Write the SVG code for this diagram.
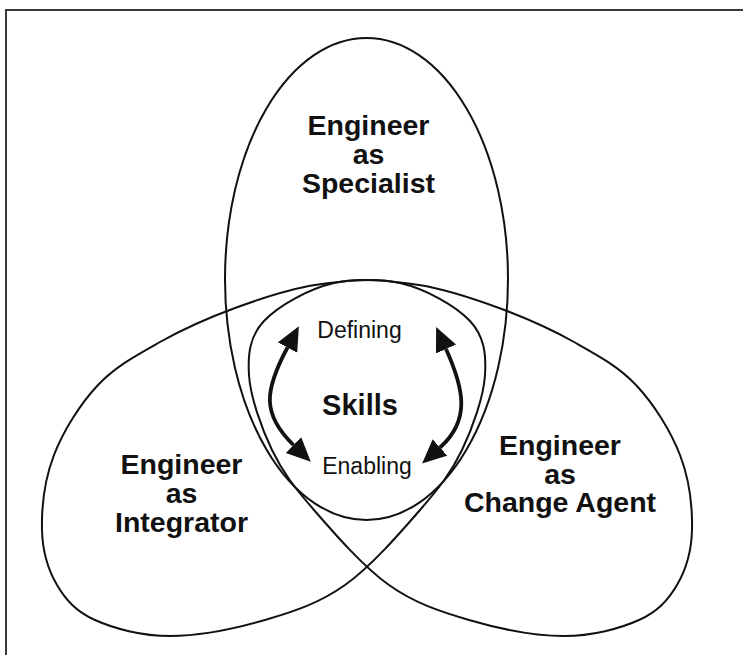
<svg xmlns="http://www.w3.org/2000/svg" xmlns:xlink="http://www.w3.org/1999/xlink" width="743" height="655" viewBox="0 0 743 655">
  <style>
    .outline { fill: none; stroke: #111; stroke-width: 2; }
    .frame { fill: none; stroke: #3a3a3a; stroke-width: 2; }
    .role { font-family: "Liberation Sans", Arial, Helvetica, sans-serif; font-weight: bold; font-size: 28.5px; fill: #111; text-anchor: middle; }
    .core { font-family: "Liberation Sans", Arial, Helvetica, sans-serif; font-weight: bold; font-size: 29px; fill: #111; text-anchor: middle; }
    .skill { font-family: "Liberation Sans", Arial, Helvetica, sans-serif; font-size: 23px; fill: #111; text-anchor: middle; }
    .flow { fill: none; stroke: #111; stroke-width: 3.8; marker-start: url(#head); marker-end: url(#head); }
  </style>
  <defs>
    <!-- tilted lobe, lower-left; mirrored for the lower-right lobe -->
    <path id="lobe" d="M42,530 C41.5,508.3 44.7,479.2 54,455 C63.3,430.8 80.3,403.8 98,385 C115.7,366.2 137.2,354.8 160,342 C182.8,329.2 209.2,317.5 235,308 C260.8,298.5 287.5,289.2 315,285 C342.5,280.8 374.2,277 400,283 C425.8,289 455.8,305.7 470,321 C484.2,336.3 486.3,353.5 485,375 C483.7,396.5 472.8,427.5 462,450 C451.2,472.5 439.5,487.5 420,510 C400.5,532.5 370.8,566.7 345,585 C319.2,603.3 294.2,611.5 265,620 C235.8,628.5 198.3,636 170,636 C141.7,636 113.8,628.5 95,620 C76.2,611.5 65.8,600 57,585 C48.2,570 42.5,551.7 42,530 Z"/>
    <marker id="head" markerUnits="userSpaceOnUse" markerWidth="26" markerHeight="24" refX="0" refY="11" orient="auto-start-reverse">
      <path d="M0,0 L24,11 L0,22 Z" fill="#111"/>
    </marker>
  </defs>

  <!-- frame edges -->
  <path class="frame" d="M6,655 L6,10 L743,10"/>

  <g id="specialist">
    <ellipse class="outline" cx="366.5" cy="279" rx="141.5" ry="241"/>
    <text class="role" x="368.5" y="135">Engineer</text>
    <text class="role" x="368.5" y="164">as</text>
    <text class="role" x="368.5" y="193">Specialist</text>
  </g>

  <g id="integrator">
    <use xlink:href="#lobe" href="#lobe" class="outline"/>
    <text class="role" x="181.5" y="474">Engineer</text>
    <text class="role" x="181.5" y="503">as</text>
    <text class="role" x="181.5" y="532">Integrator</text>
  </g>

  <g id="change-agent">
    <use xlink:href="#lobe" href="#lobe" class="outline" transform="matrix(-1 0 0 1 734 0)"/>
    <text class="role" x="560" y="455">Engineer</text>
    <text class="role" x="560" y="483.5">as</text>
    <text class="role" x="560" y="512">Change Agent</text>
  </g>

  <g id="skills">
    <text class="skill" x="359.5" y="338">Defining</text>
    <text class="core" x="360" y="415">Skills</text>
    <text class="skill" x="367" y="474">Enabling</text>
  </g>

  <g id="connectors">
    <path class="flow" d="M287.5,347.5 C264.4,390.4 261.6,414.2 293.5,445"/>
    <path class="flow" d="M446,349 C464,389 470.8,420 440,447.5"/>
  </g>
</svg>
